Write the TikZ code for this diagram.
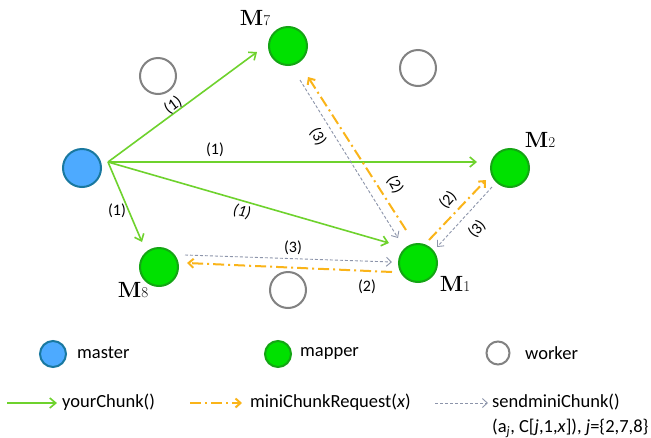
\documentclass[tikz,border=0pt]{standalone}
\usepackage{fontspec}
\newfontfamily\carl{Carlito}
\usetikzlibrary{arrows.meta,calc}
\definecolor{masterfill}{RGB}{77,170,255}
\definecolor{masterdraw}{RGB}{25,120,160}
\definecolor{mapfill}{RGB}{0,225,0}
\definecolor{mapdraw}{RGB}{20,165,20}
\definecolor{workdraw}{RGB}{130,130,130}
\definecolor{chunkgreen}{RGB}{110,210,45}
\definecolor{reqorange}{RGB}{250,180,25}
\definecolor{sendgray}{RGB}{140,148,170}
\begin{document}
\begin{tikzpicture}[x=1pt,y=-1pt,
  masternode/.style={circle, draw=masterdraw, fill=masterfill, line width=2pt, minimum size=38pt, inner sep=0pt},
  mapnode/.style={circle, draw=mapdraw, fill=mapfill, line width=2pt, minimum size=38pt, inner sep=0pt},
  worknode/.style={circle, draw=workdraw, fill=white, line width=2pt, minimum size=36pt, inner sep=0pt},
  smallmaster/.style={masternode, minimum size=26pt},
  smallmap/.style={mapnode, minimum size=26pt},
  smallwork/.style={worknode, minimum size=23pt},
  mlabel/.style={font=\fontsize{22}{22}\selectfont, inner sep=0pt},
  lab/.style={font=\carl\fontsize{16}{16}\selectfont, inner sep=0pt},
  legtext/.style={font=\carl\fontsize{18.5}{20}\selectfont, anchor=west, inner sep=0pt},
  chunk/.style={draw=chunkgreen, line width=1.6pt, -{Straight Barb[length=6pt,width=10pt]}},
  req/.style={draw=reqorange, line width=2pt, dash pattern=on 11pt off 4pt on 2pt off 4pt, -{Straight Barb[length=5pt,width=9pt]}},
  send/.style={draw=sendgray, line width=0.9pt, dash pattern=on 3pt off 2pt, -{Straight Barb[length=5pt,width=9pt]}}
]
\useasboundingbox (0,0) rectangle (651,437);
\fill[white] (0,0) rectangle (651,437);

% workers
\node[worknode] (W1) at (158,76) {};
\node[worknode] (W2) at (418,68) {};
\node[worknode] (W3) at (288,290) {};

% master and mappers
\node[masternode] (Ma) at (82,168) {};
\node[mapnode] (M7) at (288,46) {};
\node[mapnode] (M2) at (510,168) {};
\node[mapnode] (M1) at (418,263) {};
\node[mapnode] (M8) at (159,267) {};

\node[mlabel] (L7) at (255,18) {{\bfseries M}{\fontsize{15}{15}\selectfont 7}};
\node[mlabel] (L2) at (540,140) {{\bfseries M}{\fontsize{15}{15}\selectfont 2}};
\node[mlabel] (L1) at (455,284) {{\bfseries M}{\fontsize{15}{15}\selectfont 1}};
\node[mlabel] (L8) at (133,290) {{\bfseries M}{\fontsize{15}{15}\selectfont 8}};

\coordinate (src) at ($(Ma.center)+(26,-6)$);

% yourChunk
\draw[chunk] (src) -- ($(M7.center)+(-31,6)$);
\draw[chunk] (src) -- ($(M2.center)+(-33,-6)$);
\draw[chunk] (src) -- ($(M1.center)+(-29,-20)$);
\draw[chunk] (src) -- ($(M8.center)+(-17,-25)$);

% miniChunkRequest
\draw[req] ($(M1.center)+(-12,-33)$) -- ($(M7.center)+(20,31)$);
\draw[req] ($(M1.center)+(11,-23)$) -- ($(M2.center)+(-24,12)$);
\draw[req] ($(M1.center)+(-26,9)$) -- ($(M8.center)+(28,-4)$);

% sendminiChunk
\draw[send] ($(M7.center)+(12,34)$) -- ($(M1.center)+(-20,-25)$);
\draw[send] ($(M2.center)+(-18,19)$) -- ($(M1.center)+(19,-16)$);
\draw[send] ($(M8.center)+(26,-12)$) -- ($(M1.center)+(-26,-1)$);

% labels
\node[lab, rotate=36] (a1) at (173,105) {(1)};
\node[lab] (a2) at (215,150) {(1)};
\node[lab, rotate=-12, font=\carl\itshape\fontsize{16}{16}\selectfont] (a3) at (242,212) {(1)};
\node[lab] (a4) at (117,211) {(1)};
\node[lab, rotate=-60] (b1) at (318,137) {(3)};
\node[lab, rotate=-60] (b2) at (395,185) {(2)};
\node[lab, rotate=48] (b3) at (448,200) {(2)};
\node[lab, rotate=48] (b4) at (477,229) {(3)};
\node[lab] (b5) at (293,248) {(3)};
\node[lab] (b6) at (367,287) {(2)};

% legend
\node[smallmaster] (gMa) at (53,354) {};
\node[legtext] (tMa) at (77,353) {master};
\node[smallmap] (gMp) at (278,354) {};
\node[legtext] (tMp) at (300,353) {mapper};
\node[smallwork] (gW) at (498,353) {};
\node[legtext] (tW) at (525,353) {worker};

\coordinate (c1) at (7,403);
\node[legtext] (t1) at (62,402) {yourChunk()};
\draw[chunk] (c1) -- ($(t1.west)+(-5,1)$);
\coordinate (c2) at (190,403);
\node[legtext] (t2) at (250,402) {miniChunkRequest(\textit{x})};
\draw[req] (c2) -- ($(t2.west)+(-8,1)$);
\coordinate (c3) at (435,403);
\node[legtext] (t3) at (492,402) {sendminiChunk()};
\draw[send] (c3) -- ($(t3.west)+(-4,1)$);
\node[legtext] (t4) at (492,428) {(a\textsubscript{\textit{j}}, C[\textit{j},1,\textit{x}]), \textit{j}=\{2,7,8\}};
\end{tikzpicture}
\end{document}
